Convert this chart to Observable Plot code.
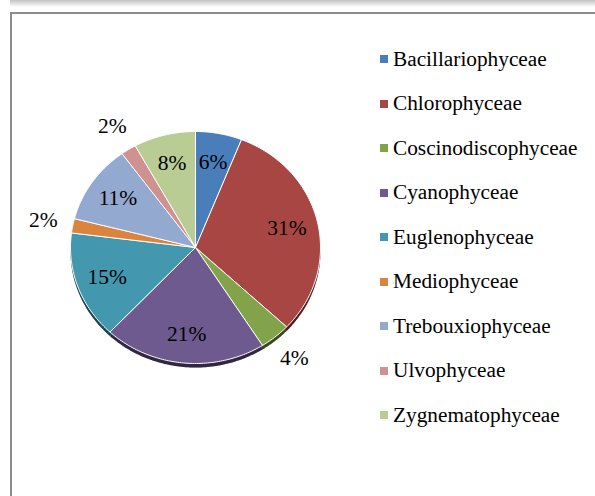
<!DOCTYPE html>
<html><head><meta charset="utf-8">
<script src="https://cdn.jsdelivr.net/npm/d3@7"></script>
<script src="https://cdn.jsdelivr.net/npm/@observablehq/plot@0.6"></script>
<style>
html,body{margin:0;padding:0;background:#fff;}
#wrap{position:relative;width:595px;height:496px;overflow:hidden;background:#fff;font-family:"Liberation Serif","Times New Roman",serif;}
#topshade{position:absolute;left:10px;top:0;width:585px;height:7px;background:linear-gradient(#c2c2c2,#ffffff);}
#frame{position:absolute;left:10px;top:12px;width:600px;height:500px;border-left:2px solid #8c8c8c;border-top:2px solid #8c8c8c;}
#chart{position:absolute;left:0;top:0;}
#legend{position:absolute;left:380px;top:36.75px;}
.row{display:flex;align-items:center;height:44.5px;font-size:21.3px;color:#000;white-space:nowrap;}
.sw{width:8px;height:8px;margin-right:5px;flex:none;}
</style></head><body>
<div id="wrap"><div id="topshade"></div><div id="frame"></div><div id="chart"></div><div id="legend"></div></div>
<script>
const categories = ["Bacillariophyceae","Chlorophyceae","Coscinodiscophyceae","Cyanophyceae","Euglenophyceae","Mediophyceae","Trebouxiophyceae","Ulvophyceae","Zygnematophyceae"];
const percents = [6,31,4,21,15,2,11,2,8];
const colors = ["#4A7EBB","#A84643","#83A34B","#6E5A8E","#4398AF","#DB843D","#93A9D0","#D09291","#B8CC93"];

const data = categories.map((c,i)=>({category:c, value:percents[i]}));
const arcs = d3.pie().sort(null).value(d=>d.value)(data);

const points = [];
for (const a of arcs) {
  const c = a.data.category;
  points.push({category:c, x:0, y:0});
  const n = Math.max(2, Math.ceil((a.endAngle - a.startAngle) / (Math.PI/180)));
  for (let k=0;k<=n;k++){
    const t = a.startAngle + (a.endAngle - a.startAngle)*k/n;
    points.push({category:c, x:Math.sin(t), y:Math.cos(t)});
  }
  points.push({category:c, x:0, y:0});
}
const labels = arcs.map(a=>{
  const m = (a.startAngle + a.endAngle)/2;
  const f = a.data.value >= 6 ? 0.75 : 1.24;
  return {x:Math.sin(m)*f, y:Math.cos(m)*f, text:a.data.value + "%"};
});

const chart = Plot.plot({
  width:595, height:496, margin:0,
  x:{domain:[-1,1], range:[70,320], axis:null},
  y:{domain:[-1,1], range:[363,131], axis:null},
  color:{domain:categories, range:colors},
  style:{background:"transparent", fontFamily:"Liberation Serif, Times New Roman, serif"},
  marks:[
    Plot.line(points, {x:"x", y:"y", z:"category", fill:"category", stroke:"none", dy:4}),
    Plot.line(points, {x:"x", y:"y", z:"category", fill:"black", fillOpacity:0.55, stroke:"none", dy:4}),
    Plot.line(points, {x:"x", y:"y", z:"category", fill:"category", stroke:"white", strokeWidth:1}),
    Plot.text(labels, {x:"x", y:"y", text:"text", fontSize:21.5, fill:"black"})
  ]
});
document.getElementById("chart").appendChild(chart);

const legend = document.getElementById("legend");
categories.forEach((c,i)=>{
  const row = document.createElement("div");
  row.className = "row";
  const sw = document.createElement("span");
  sw.className = "sw";
  sw.style.background = colors[i];
  const tx = document.createElement("span");
  tx.textContent = c;
  row.appendChild(sw); row.appendChild(tx);
  legend.appendChild(row);
});
</script>
</body></html>
